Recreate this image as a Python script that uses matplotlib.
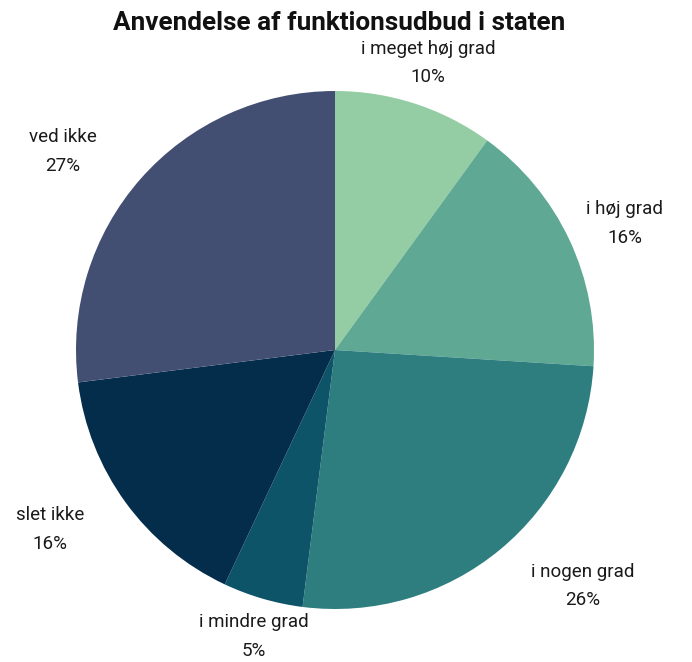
import numpy as np
import matplotlib
matplotlib.use('Agg')
import matplotlib.pyplot as plt

plt.rcParams['font.family'] = ['Roboto', 'DejaVu Sans']

# Data
kategorier = ['i meget høj grad', 'i høj grad', 'i nogen grad', 'i mindre grad', 'slet ikke', 'ved ikke']
andele = [10, 16, 26, 5, 16, 27]
farver = ['#94CCA4', '#5EA894', '#2E7E80', '#0D5468', '#032D4B', '#424F72']

# etiketplacering (afstand fra centrum, vinkelforskydning i grader)
afstande = [1.165, 1.22, 1.32, 1.15, 1.30, 1.30]
forskyd = [0, -1.6, 6.8, 0.3, -3.8, 5.3]

fig = plt.figure(figsize=(6.92, 6.62), dpi=100)
ax = fig.add_axes([76 / 692, 53 / 662, 518 / 692, 518 / 662])

wedges, _ = ax.pie(andele, colors=farver, startangle=90, counterclock=False,
                   radius=1.0, wedgeprops=dict(linewidth=0))
ax.set_xlim(-1, 1)
ax.set_ylim(-1, 1)
ax.set_aspect('equal')
ax.axis('off')

for w, navn, v, d, f in zip(wedges, kategorier, andele, afstande, forskyd):
    vinkel = np.deg2rad((w.theta1 + w.theta2) / 2 + f)
    x, y = d * np.cos(vinkel), d * np.sin(vinkel)
    ax.text(x, y, f'{navn}\n{v}%', ha='center', va='center', fontsize=13.5,
            linespacing=1.75, color='#1a1a1a')

fig.text(0.49, 0.966, 'Anvendelse af funktionsudbud i staten', ha='center', va='center',
         fontsize=18.8, fontweight='bold', color='#111111')

fig.savefig('out.png', dpi=100)
